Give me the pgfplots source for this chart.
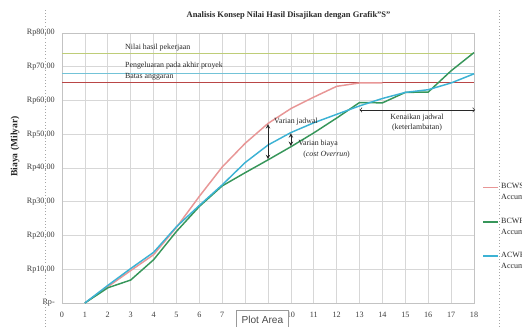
\documentclass[border=0pt]{standalone}
\usepackage{fontspec}
\setmainfont{Liberation Serif}
\setsansfont{Liberation Sans}
\usepackage{pgfplots}
\pgfplotsset{compat=1.18}
\definecolor{bcws}{RGB}{232,150,150}
\definecolor{bcwp}{RGB}{55,150,90}
\definecolor{acwp}{RGB}{60,178,212}
\definecolor{hlolive}{RGB}{190,205,120}
\definecolor{hlcyan}{RGB}{115,195,215}
\definecolor{hlred}{RGB}{185,70,70}
\definecolor{gridc}{RGB}{215,215,215}
\definecolor{axisc}{RGB}{195,195,195}
\definecolor{tickc}{RGB}{60,60,60}
\definecolor{txtc}{RGB}{40,40,40}
\newcommand{\annot}{\fontsize{5.9}{7}\selectfont}
\begin{document}
\begin{tikzpicture}
\useasboundingbox (0,0) rectangle (391.5pt,245.25pt);
\begin{axis}[
  at={(46.5pt,18pt)}, anchor=south west,
  scale only axis, width=309pt, height=202.5pt,
  xmin=0, xmax=18, ymin=0, ymax=80,
  xtick={0,1,...,18}, ytick={0,10,...,80},
  xticklabels={0,1,2,3,4,5,6,7,,,10,11,12,13,14,15,16,17,18},
  yticklabels={Rp-,Rp10{,}00,Rp20{,}00,Rp30{,}00,Rp40{,}00,Rp50{,}00,Rp60{,}00,Rp70{,}00,Rp80{,}00},
  grid=major, major grid style={gridc, line width=0.5pt},
  axis line style={axisc, line width=0.5pt},
  major tick length=0pt,
  tick label style={font=\fontsize{6.1}{7}\selectfont, text=tickc, inner sep=0pt},
  xticklabel style={anchor=center, yshift=-9pt},
  yticklabel style={anchor=east, xshift=-5.25pt},
  clip=false,
  legend cell align=left,
  legend style={at={(axis description cs:1.0211,0.4719)}, anchor=north west,
    draw=none, fill=none, inner sep=0pt, outer sep=0pt, column sep=0pt, row sep=0pt,
    font=\fontsize{6}{8.25}\selectfont, text=txtc,
    cells={align=left, minimum height=25.8pt, inner sep=0pt, anchor=west}},
  legend image code/.code={\draw[#1, line width=1.2pt] (0pt,4.1pt) -- (10.7pt,4.1pt);},
]
\addplot[draw=hlolive, line width=0.9pt, forget plot] coordinates {(0,74.0) (18,74.0)};
\addplot[draw=hlcyan, line width=0.9pt, forget plot] coordinates {(0,67.9) (18,67.9)};
\addplot[draw=hlred, line width=0.8pt, forget plot] coordinates {(0,65.2) (18,65.2)};
\addplot[draw=bcws, line width=1.1pt] coordinates {
 (1,0) (2,4.8) (3,9.6) (4,14.3) (5,22.4) (6,31.6) (7,40.3) (8,47.3) (9,53.2)
 (10,57.6) (11,61.0) (12,64.2) (13,65.2) (14,65.2)};
\addlegendentry{BCWS\\Accumulative}
\addplot[draw=bcwp, line width=1.1pt] coordinates {
 (1,0) (2,4.5) (3,6.8) (4,12.8) (5,21.2) (6,28.6) (7,34.7) (8,38.6) (9,42.4)
 (10,46.3) (11,50.4) (12,54.8) (13,59.4) (14,59.3) (15,62.4) (16,62.5) (17,68.8) (18,74.2)};
\addlegendentry{BCWP\\Accumulative}
\addplot[draw=acwp, line width=1.1pt] coordinates {
 (1,0) (2,5.2) (3,10.2) (4,15.0) (5,22.6) (6,28.9) (7,35.0) (8,41.6) (9,46.8)
 (10,50.5) (11,53.4) (12,55.9) (13,58.4) (14,60.6) (15,62.4) (16,63.2) (17,65.2) (18,67.9)};
\addlegendentry{ACWP\\Accumulative}
\node[anchor=west, inner sep=0pt, font=\annot, text=txtc] at (axis cs:2.75,75.6) {Nilai hasil pekerjaan};
\node[anchor=west, inner sep=0pt, font=\annot, text=txtc] at (axis cs:2.75,70.3) {Pengeluaran pada akhir proyek};
\node[anchor=west, inner sep=0pt, font=\annot, text=txtc] at (axis cs:2.75,66.9) {Batas anggaran};
\draw[<->, >=stealth, line width=0.5pt, txtc] (axis cs:9,53.0) -- (axis cs:9,42.6);
\draw[<->, >=stealth, line width=0.5pt, txtc] (axis cs:10,50.3) -- (axis cs:10,46.5);
\draw[<->, line width=0.5pt, txtc] (axis cs:13,57.2) -- (axis cs:18.05,57.2);
\node[anchor=west, inner sep=0pt, font=\annot, text=txtc] at (axis cs:9.26,53.7) {Varian jadwal};
\node[anchor=west, inner sep=0pt, font=\annot, text=txtc] at (axis cs:10.31,47.3) {Varian biaya};
\node[anchor=west, inner sep=0pt, font=\annot, text=txtc] at (axis cs:10.53,43.9) {(\textit{cost Overrun})};
\node[inner sep=0pt, font=\annot, text=txtc] at (axis cs:15.51,54.8) {Kenaikan jadwal};
\node[inner sep=0pt, font=\annot, text=txtc] at (axis cs:15.51,51.9) {(keterlambatan)};
\end{axis}
\node[font=\bfseries\fontsize{6.35}{7.5}\selectfont, text=txtc, inner sep=0pt] at (216.4pt,234pt) {Analisis Konsep Nilai Hasil Disajikan dengan Grafik\symbol{34}S\symbol{34}};
\node[font=\bfseries\fontsize{7.2}{8.5}\selectfont, text=txtc, inner sep=0pt, rotate=90] at (11.25pt,135.4pt) {Biaya (Milyar)};
\draw[gray!70, dotted, line width=0.4pt] (33.75pt,0pt) -- (33.75pt,237.75pt);
\draw[gray!70, dotted, line width=0.4pt] (374.25pt,0pt) -- (374.25pt,237.75pt);
\draw[gray!80, fill=white, line width=0.5pt] (177.5pt,-1pt) rectangle (216.2pt,12.75pt);
\node[font=\sffamily\fontsize{7.6}{9}\selectfont, text=black!70, inner sep=0pt] at (196.8pt,5.1pt) {Plot Area};
\end{tikzpicture}
\end{document}
